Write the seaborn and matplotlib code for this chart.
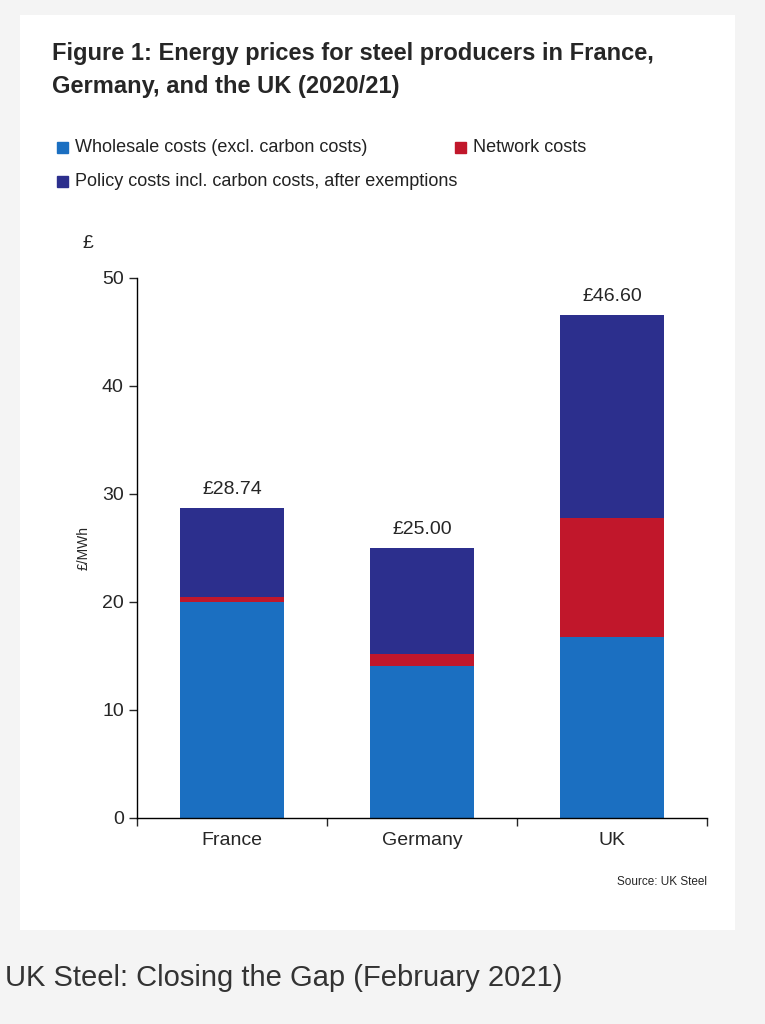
import matplotlib
matplotlib.use("Agg")
import matplotlib.pyplot as plt
import seaborn as sns
import pandas as pd
import numpy as np
from matplotlib.patches import Rectangle

countries = ["France", "Germany", "UK"]
wholesale = [20.0, 14.1, 16.8]
network = [0.5, 1.1, 11.0]
policy = [8.24, 9.8, 18.8]
totals_labels = ["£28.74", "£25.00", "£46.60"]
yticks = [0, 10, 20, 30, 40, 50]

c_whole, c_net, c_pol = "#1b6fc1", "#c1172b", "#2c2f8d"

sns.set_style("white")
plt.rcParams['font.family'] = ['Liberation Sans', 'DejaVu Sans']
fig = plt.figure(figsize=(7.65, 10.24), dpi=100)
fig.patch.set_facecolor("#f4f4f4")
fig.add_artist(Rectangle((20/765, 1-930/1024), 715/765, 915/1024, transform=fig.transFigure,
                         facecolor="white", edgecolor="none", zorder=0))

ax = fig.add_axes([137/765, 1-818/1024, 570/765, 540/1024])
ax.set_facecolor("none")
df = pd.DataFrame({"c": countries, "w": wholesale, "n": network, "p": policy})
b1 = np.array(wholesale)
b2 = b1 + np.array(network)
kw = dict(width=0.55, saturation=1, linewidth=0, ax=ax)
sns.barplot(data=df, x="c", y="w", color=c_whole, **kw)
sns.barplot(data=df, x="c", y="n", color=c_net, bottom=b1, **kw)
sns.barplot(data=df, x="c", y="p", color=c_pol, bottom=b2, **kw)
tot = b2 + np.array(policy)
for i, (t, l) in enumerate(zip(tot, totals_labels)):
    ax.text(i, t + 0.9, l, ha="center", va="bottom", fontsize=14)

ax.set_xlim(-0.5, 2.5)
ax.set_ylim(0, 50)
ax.set_yticks(yticks)
ax.tick_params(axis="y", length=6, width=1, direction="out", labelsize=14, left=True)
ax.tick_params(axis="x", length=0, labelsize=14, pad=10)
ax.set_xticks([-0.5, 0.5, 1.5, 2.5], minor=True)
ax.tick_params(axis="x", which="minor", length=6, width=1, bottom=True, direction="out")
ax.set_xlabel("")
ax.set_ylabel("£/MWh", fontsize=10, labelpad=8)
for s in ["top", "right"]:
    ax.spines[s].set_visible(False)
for s in ["left", "bottom"]:
    ax.spines[s].set_color("black")
    ax.spines[s].set_linewidth(1)
ax.text(-0.095, 1.055, "£", transform=ax.transAxes, fontsize=14)

fig.text(52/765, 1-70/1024, "Figure 1: Energy prices for steel producers in France,\nGermany, and the UK (2020/21)",
         fontsize=17, fontweight="bold", va="center", linespacing=1.55)
def leg(x, y, c, t):
    fig.add_artist(Rectangle((x/765, 1-(y+6)/1024), 11/765, 11/1024, transform=fig.transFigure, color=c))
    fig.text((x+18)/765, 1-y/1024, t, fontsize=13, va="center", color="#222222")
leg(57, 147, c_whole, "Wholesale costs (excl. carbon costs)")
leg(455, 147, c_net, "Network costs")
leg(57, 181, c_pol, "Policy costs incl. carbon costs, after exemptions")
fig.text(707/765, 1-882/1024, "Source: UK Steel", fontsize=8.5, ha="right", va="center")
fig.text(5/765, 1-978/1024, "UK Steel: Closing the Gap (February 2021)", fontsize=21, va="center", color="#333333")
fig.savefig("out.png", dpi=100, facecolor=fig.get_facecolor())
